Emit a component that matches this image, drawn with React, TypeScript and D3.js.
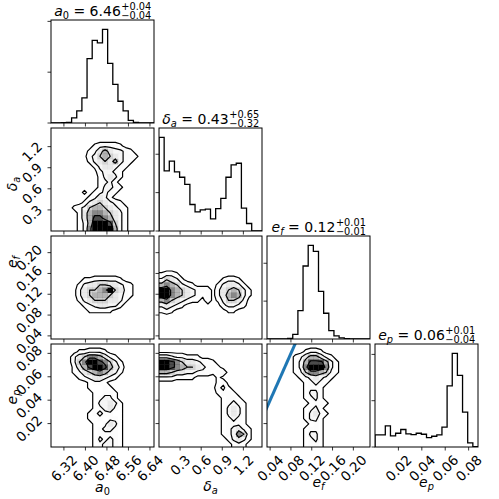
import React from "react";
import * as d3 from "d3";

// ── layout ───────────────────────────────────────────────
const SIZE = 103;
const STEP = 108;
const LEFT = 51;
const TOP = 20;
const NB = 20;
const FONT = "DejaVu Sans";
const TICK_FS = 13.5;
const TITLE_FS = 14;
const LABEL_FS = 14;

// ── parameters ───────────────────────────────────────────
const SYMBOLS = ["a", "δ", "e", "e"];
const SUBS = ["0", "a", "f", "p"];
const SUB_ITALIC = [false, true, true, true];
const MEDIANS = ["6.46", "0.43", "0.12", "0.06"];
const ERR_UP = ["+0.04", "+0.65", "+0.01", "+0.01"];
const ERR_DN = ["−0.04", "−0.32", "−0.01", "−0.04"];

const RANGES: [number, number][] = [[6.272, 6.655], [0, 1.465], [0.034, 0.232], [0, 0.088]];
const TICKS = [
  [6.32, 6.4, 6.48, 6.56, 6.64],
  [0.3, 0.6, 0.9, 1.2],
  [0.04, 0.08, 0.12, 0.16, 0.2],
  [0.02, 0.04, 0.06, 0.08],
];
const TICK_LABELS = [
  ["6.32", "6.40", "6.48", "6.56", "6.64"],
  ["0.3", "0.6", "0.9", "1.2"],
  ["0.04", "0.08", "0.12", "0.16", "0.20"],
  ["0.02", "0.04", "0.06", "0.08"],
];
// where the axis labels sit (baseline of x labels, centre of y labels)
const X_LABEL_Y = [492, 491, 487, 487];
const Y_LABEL_Y = [0, 184, 262, 397];

// ── 1D histograms (20 bins across each range) ────────────
const HIST_A0 = [0, 0, 3, 5, 40, 96, 198, 507, 651, 630, 737, 470, 304, 171, 96, 21, 5, 0, 0, 0];
const HIST_DA = [488, 313, 364, 308, 280, 243, 138, 100, 110, 114, 63, 117, 170, 280, 345, 353, 119, 39, 0, 0];
const HIST_EF = [0, 0, 0, 0, 7, 49, 299, 771, 989, 925, 503, 272, 88, 32, 11, 4, 0, 0, 0, 0];
const HIST_EP = [104, 104, 183, 96, 119, 151, 113, 107, 119, 110, 81, 93, 104, 171, 528, 809, 618, 302, 35, 3];
const HISTS = [HIST_A0, HIST_DA, HIST_EF, HIST_EP];
const HIST_TICKS = [[0, 400, 800], [0, 200, 400], [0, 400, 800], [0, 400, 800]];

// ── 2D densities, 20x20 bins, top row = high y, digits 0-9 ──
const GRID_DA_A0 = [
  "00000000000000000000",
  "00000000000000000000",
  "00000000000000000000",
  "00000000122221000000",
  "00000001246433210000",
  "00000002356543221000",
  "00000001345463210000",
  "00000000134432100000",
  "00000000023321000000",
  "00000000013431000000",
  "00000000012310000000",
  "00000000013321000000",
  "00000010123210000000",
  "00000001243100000000",
  "00000013454321000000",
  "00001235665432100000",
  "00000146776543100000",
  "00000146887643100000",
  "00000136999853100000",
  "00000137999963100000",
];
const GRID_EF_A0 = [
  "00000000000000000000",
  "00000000000000000000",
  "00000000000000000000",
  "00000000000000000000",
  "00000000000000000000",
  "00000000000000000000",
  "00000000000000000000",
  "00000000000000000000",
  "00000011222221000000",
  "00000134455443210000",
  "00000245567954210000",
  "00000245666543210000",
  "00000134555443100000",
  "00000012344331000000",
  "00000001111100000000",
  "00000000000000000000",
  "00000000000000000000",
  "00000000000000000000",
  "00000000000000000000",
  "00000000000000000000",
];
const GRID_EF_DA = [
  "00000000000000000000",
  "00000000000000000000",
  "00000000000000000000",
  "00000000000000000000",
  "00000000000000000000",
  "00000000000000000000",
  "00000000000000000000",
  "12210000000000000000",
  "35431000000012210000",
  "67653210000134431000",
  "99765432220245653100",
  "99765432120246763100",
  "67543211020135542000",
  "34321000000023321000",
  "12100000000001100000",
  "00000000000000000000",
  "00000000000000000000",
  "00000000000000000000",
  "00000000000000000000",
  "00000000000000000000",
];
const GRID_EP_A0 = [
  "00000000000000000000",
  "00000112221000000000",
  "00002457764210000000",
  "00002579987531000000",
  "00001468998642000000",
  "00001245676431000000",
  "00000123443210000000",
  "00000001221000000000",
  "00000001112100000000",
  "00000000112210000000",
  "00000000123310000000",
  "00000000133431000000",
  "00000000123421000000",
  "00000001232211000000",
  "00000001121221000000",
  "00000000112431000000",
  "00000000123321000000",
  "00000000122221000000",
  "00000000132321000000",
  "00000000123321000000",
];
const GRID_EP_DA = [
  "00000000000000000000",
  "00000000000000000000",
  "44322111000000000000",
  "99875443221000000000",
  "99876554322100000000",
  "66544332221220000000",
  "22211110000100000000",
  "00000000000120000000",
  "00000000000231000000",
  "00000000000122100000",
  "00000000000012210000",
  "00000000000012321000",
  "00000000000013431000",
  "00000000000013431000",
  "00000000000012321000",
  "00000000000012221000",
  "00000000000012342100",
  "00000000000012375100",
  "00000000000001343100",
  "00000000000000121000",
];
const GRID_EP_EF = [
  "00000000000000000000",
  "00000001221000000000",
  "00000124664210000000",
  "00000136888631000000",
  "00000137999731000000",
  "00000125776521000000",
  "00000012343210000000",
  "00000001232100000000",
  "00000001221000000000",
  "00000001331000000000",
  "00000001231000000000",
  "00000000122100000000",
  "00000001231000000000",
  "00000001342100000000",
  "00000001331000000000",
  "00000000121000000000",
  "00000001221000000000",
  "00000001331000000000",
  "00000001231000000000",
  "00000001221000000000",
];
const GRIDS: Record<string, string[]> = {
  "1-0": GRID_DA_A0,
  "2-0": GRID_EF_A0,
  "2-1": GRID_EF_DA,
  "3-0": GRID_EP_A0,
  "3-1": GRID_EP_DA,
  "3-2": GRID_EP_EF,
};
const LEVELS = [0.6, 2.5, 5, 7.5];

let ctx: CanvasRenderingContext2D | null = null;
function tw(s: string, font: string) {
  if (!ctx) ctx = document.createElement("canvas").getContext("2d");
  ctx!.font = font;
  return ctx!.measureText(s).width;
}

// a_0 = 6.46^{+0.04}_{-0.04} style label, centered at (x, y)
function MathText({ i, x, y, fs, err }: { i: number; x: number; y: number; fs: number; err: boolean }) {
  const sfs = fs * 0.7;
  const font = `${fs}px "${FONT}"`;
  const subFont = `${SUB_ITALIC[i] ? "italic " : ""}${sfs}px "${FONT}"`;
  const wSym = tw(SYMBOLS[i], `italic ${font}`);
  const wSub = tw(SUBS[i], subFont);
  const rest = `= ${MEDIANS[i]}`;
  const wSp = err ? tw(" ", font) : 0;
  const wRest = err ? tw(rest, font) : 0;
  const wErr = err ? Math.max(tw(ERR_UP[i], `${sfs}px "${FONT}"`), tw(ERR_DN[i], `${sfs}px "${FONT}"`)) : 0;
  const total = wSym + wSub + wSp + wRest + wErr;
  const x0 = x - total / 2;
  const xs = x0 + wSym + wSub + wSp + wRest + 0.5;
  return (
    <g fill="#000">
      <text x={x0} y={y} fontSize={fs} fontStyle="italic">{SYMBOLS[i]}</text>
      <text x={x0 + wSym} y={y + fs * 0.22} fontSize={sfs} fontStyle={SUB_ITALIC[i] ? "italic" : "normal"}>{SUBS[i]}</text>
      {err && <text x={x0 + wSym + wSub + wSp} y={y} fontSize={fs}>{rest}</text>}
      {err && <text x={xs} y={y - fs * 0.45} fontSize={sfs}>{ERR_UP[i]}</text>}
      {err && <text x={xs} y={y + fs * 0.2} fontSize={sfs}>{ERR_DN[i]}</text>}
    </g>
  );
}

function contourPaths(rows: string[], x0: number, y0: number) {
  const m = NB + 4;
  const g = rows.map((s) => s.split("").map(Number));
  const vals = new Array(m * m).fill(0);
  for (let j = 1; j < m - 1; j++)
    for (let i = 1; i < m - 1; i++) {
      const ii = Math.min(Math.max(i - 2, 0), NB - 1);
      const jj = Math.min(Math.max(j - 2, 0), NB - 1);
      vals[j * m + i] = g[jj][ii];
    }
  const cs = d3.contours().size([m, m]).thresholds(LEVELS)(vals);
  const proj = d3.geoTransform({
    point(x: number, y: number) {
      (this as any).stream.point(x0 + ((x - 2) * SIZE) / NB, y0 + ((y - 2) * SIZE) / NB);
    },
  });
  const path = d3.geoPath(proj);
  return cs.map((c) => path(c as any) || "");
}

function Panel({ r, c }: { r: number; c: number }) {
  const x0 = LEFT + c * STEP;
  const y0 = TOP + r * STEP;
  const sx = d3.scaleLinear().domain(RANGES[c]).range([x0, x0 + SIZE]);
  const clipId = `clip-${r}-${c}`;
  const els: React.ReactNode[] = [];
  let yTicks: number[] = [];

  if (r === c) {
    const counts = HISTS[c];
    const sy = d3.scaleLinear().domain([0, 1.1 * (d3.max(counts) as number)]).range([y0 + SIZE, y0]);
    const [lo, hi] = RANGES[c];
    const edges = d3.range(NB + 1).map((k) => lo + (k * (hi - lo)) / NB);
    const pts: [number, number][] = [[sx(edges[0]), sy(0)]];
    counts.forEach((v, k) => {
      pts.push([sx(edges[k]), sy(v)]);
      pts.push([sx(edges[k + 1]), sy(v)]);
    });
    pts.push([sx(edges[NB]), sy(0)]);
    els.push(<path key="h" d={d3.line()(pts) || ""} fill="none" stroke="#000" strokeWidth={1.3} />);
    yTicks = HIST_TICKS[c].map((t) => sy(t));
  } else {
    const sy = d3.scaleLinear().domain(RANGES[r]).range([y0 + SIZE, y0]);
    const rows = GRIDS[`${r}-${c}`];
    const paths = contourPaths(rows, x0, y0);
    const cell = SIZE / NB;
    els.push(<path key="base" d={paths[0]} fill="#fff" stroke="none" />);
    rows.forEach((s, j) =>
      s.split("").forEach((ch, i) => {
        const v = Number(ch) / 9;
        if (v > 0)
          els.push(
            <rect key={`c${i}-${j}`} x={x0 + i * cell} y={y0 + j * cell} width={cell + 0.3} height={cell + 0.3}
              fill="#000" fillOpacity={Math.pow(v, 3)} />
          );
      })
    );
    paths.forEach((p, k) =>
      els.push(<path key={`l${k}`} d={p} fill="none" stroke="#000" strokeWidth={1.2} strokeLinejoin="round" />)
    );
    if (r === 3 && c === 2) {
      // one-to-one reference line
      els.push(<line key="ref" x1={sx(0)} y1={sy(0)} x2={sx(0.1)} y2={sy(0.1)} stroke="#1f77b4" strokeWidth={3} />);
    }
    yTicks = TICKS[r].map((t) => sy(t));
  }

  const xTicks = TICKS[c].map((t) => sx(t));
  const labels: React.ReactNode[] = [];
  const sq = Math.SQRT2;
  if (r === 3) {
    TICK_LABELS[c].forEach((s, k) => {
      const w = tw(s, `${TICK_FS}px "${FONT}"`);
      const side = (w + 0.73 * TICK_FS) / sq;
      const cx = xTicks[k];
      const cy = y0 + SIZE + 7 + side / 2;
      labels.push(
        <text key={`xl${k}`} transform={`translate(${cx},${cy}) rotate(-45)`} textAnchor="middle"
          dominantBaseline="central" fontSize={TICK_FS}>{s}</text>
      );
    });
  }
  if (c === 0 && r > 0) {
    TICK_LABELS[r].forEach((s, k) => {
      const w = tw(s, `${TICK_FS}px "${FONT}"`);
      const side = (w + 0.73 * TICK_FS) / sq;
      const cx = x0 - 8 - side / 2;
      const cy = yTicks[k] + 5;
      labels.push(
        <text key={`yl${k}`} transform={`translate(${cx},${cy}) rotate(-45)`} textAnchor="middle"
          dominantBaseline="central" fontSize={TICK_FS}>{s}</text>
      );
    });
  }

  return (
    <g>
      <defs>
        <clipPath id={clipId}>
          <rect x={x0} y={y0} width={SIZE} height={SIZE} />
        </clipPath>
      </defs>
      <g clipPath={`url(#${clipId})`}>{els}</g>
      {xTicks.map((x, k) => (
        <line key={`xt${k}`} x1={x} x2={x} y1={y0 + SIZE} y2={y0 + SIZE + 3.5} stroke="#000" strokeWidth={0.8} />
      ))}
      {yTicks.map((y, k) => (
        <line key={`yt${k}`} x1={x0 - 3.5} x2={x0} y1={y} y2={y} stroke="#000" strokeWidth={0.8} />
      ))}
      <rect x={x0} y={y0} width={SIZE} height={SIZE} fill="none" stroke="#000" strokeWidth={1} />
      {labels}
    </g>
  );
}

export default function App() {
  const panels: React.ReactNode[] = [];
  for (let r = 0; r < 4; r++) for (let c = 0; c <= r; c++) panels.push(<Panel key={`${r}-${c}`} r={r} c={c} />);

  return (
    <div style={{ position: "absolute", left: 0, top: 0 }}>
      <svg width={499} height={499} fontFamily={FONT} style={{ display: "block", background: "#fff" }}>
        {panels}
        {/* titles over the diagonal */}
        {[0, 1, 2, 3].map((i) => (
          <MathText key={`t${i}`} i={i} x={LEFT + i * STEP + SIZE / 2} y={TOP + i * STEP - 4} fs={TITLE_FS} err />
        ))}
        {/* x axis labels */}
        {[0, 1, 2, 3].map((i) => (
          <MathText key={`xa${i}`} i={i} x={LEFT + i * STEP + SIZE / 2} y={X_LABEL_Y[i]} fs={LABEL_FS} err={false} />
        ))}
        {/* y axis labels */}
        {[1, 2, 3].map((i) => (
          <g key={`ya${i}`} transform={`translate(17,${Y_LABEL_Y[i]}) rotate(-90)`}>
            <MathText i={i} x={0} y={0} fs={LABEL_FS} err={false} />
          </g>
        ))}
      </svg>
    </div>
  );
}
